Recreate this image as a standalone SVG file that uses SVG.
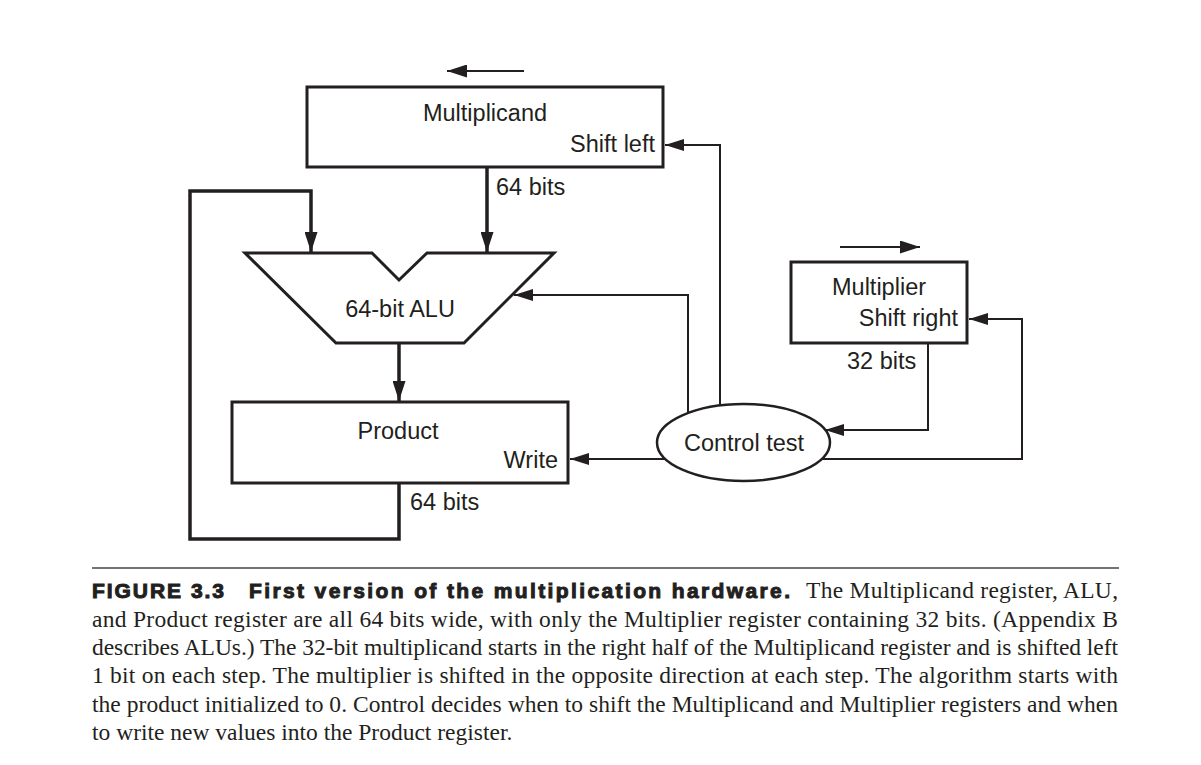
<svg xmlns="http://www.w3.org/2000/svg" width="1201" height="765" viewBox="0 0 1201 765">
<defs>
<style>
.box{fill:#fff;stroke:#231f20;stroke-width:3}
.lbl{font-family:"Liberation Sans",Arial,sans-serif;font-size:23.5px;fill:#231f20}
.thick{fill:none;stroke:#231f20;stroke-width:3.5}
.thin{fill:none;stroke:#231f20;stroke-width:2}
.cap{font-family:"Liberation Serif","Times New Roman",serif;font-size:23.5px;fill:#231f20}
.capb{font-family:"Liberation Sans",Arial,sans-serif;font-size:21px;font-weight:bold;fill:#231f20;stroke:#231f20;stroke-width:1}
</style>
<marker id="ah" markerUnits="userSpaceOnUse" viewBox="0 0 20 13" markerWidth="20" markerHeight="13" refX="20" refY="6.5" orient="auto">
<path d="M0,0 L20,6.5 L0,13 z" fill="#231f20"/>
</marker>
<marker id="ahs" markerUnits="userSpaceOnUse" viewBox="0 0 19 12" markerWidth="19" markerHeight="12" refX="19" refY="6" orient="auto">
<path d="M0,0 L19,6 L0,12 z" fill="#231f20"/>
</marker>
</defs>
<rect width="1201" height="765" fill="#fff"/>

<g id="connectors">
<path class="thick" d="M487,167 V252" marker-end="url(#ah)"/>
<path class="thick" d="M399,483 V539 H190 V191 H311 V252" marker-end="url(#ah)"/>
<path class="thick" d="M399,343 V401" marker-end="url(#ah)"/>
<path class="thin" d="M688,413 V295 H514" marker-end="url(#ahs)"/>
<path class="thin" d="M720,406 V145 H665" marker-end="url(#ahs)"/>
<path class="thin" d="M665,459 H570" marker-end="url(#ahs)"/>
<path class="thin" d="M928,343 V430 H825" marker-end="url(#ahs)"/>
<path class="thin" d="M822,459 H1022 V319 H969" marker-end="url(#ahs)"/>
<path class="thin" d="M524,71 H447" marker-end="url(#ah)"/>
<path class="thin" d="M840,247 H920" marker-end="url(#ah)"/>
</g>

<g id="multiplicand">
<rect class="box" x="307" y="87" width="356" height="80"/>
<text class="lbl" x="485" y="121" text-anchor="middle">Multiplicand</text>
<text class="lbl" x="655" y="152" text-anchor="end">Shift left</text>
<text class="lbl" x="496" y="195">64 bits</text>
</g>

<g id="alu">
<polygon class="box" points="245,253 372,253 399,280 427,253 554,253 464,343 336,343"/>
<text class="lbl" x="400" y="317" text-anchor="middle">64-bit ALU</text>
</g>

<g id="product">
<rect class="box" x="232" y="402" width="336" height="81"/>
<text class="lbl" x="398" y="439" text-anchor="middle">Product</text>
<text class="lbl" x="558" y="468" text-anchor="end">Write</text>
<text class="lbl" x="410" y="510">64 bits</text>
</g>

<g id="multiplier">
<rect class="box" x="791" y="262" width="176" height="81"/>
<text class="lbl" x="832" y="295">Multiplier</text>
<text class="lbl" x="958" y="326" text-anchor="end">Shift right</text>
<text class="lbl" x="847" y="369">32 bits</text>
</g>

<g id="control">
<ellipse cx="743.5" cy="442.5" rx="86.5" ry="38.5" fill="#fff" stroke="#231f20" stroke-width="2.5"/>
<text class="lbl" x="744" y="451" text-anchor="middle">Control test</text>
</g>

<g id="caption">
<line x1="92" y1="568" x2="1119" y2="568" stroke="#444" stroke-width="1.5"/>
<text class="capb" x="92" y="598" textLength="132" lengthAdjust="spacing">FIGURE 3.3</text>
<text class="capb" x="249" y="598" textLength="541" lengthAdjust="spacing">First version of the multiplication hardware.</text>
<text class="cap" x="806" y="598" textLength="312" lengthAdjust="spacing">The Multiplicand register, ALU,</text>
<text class="cap" x="92" y="627" textLength="1026" lengthAdjust="spacing">and Product register are all 64 bits wide, with only the Multiplier register containing 32 bits. (Appendix B</text>
<text class="cap" x="92" y="655" textLength="1026" lengthAdjust="spacing">describes ALUs.) The 32-bit multiplicand starts in the right half of the Multiplicand register and is shifted left</text>
<text class="cap" x="92" y="683" textLength="1026" lengthAdjust="spacing">1 bit on each step. The multiplier is shifted in the opposite direction at each step. The algorithm starts with</text>
<text class="cap" x="92" y="712" textLength="1026" lengthAdjust="spacing">the product initialized to 0. Control decides when to shift the Multiplicand and Multiplier registers and when</text>
<text class="cap" x="92" y="740">to write new values into the Product register.</text>
</g>
</svg>
